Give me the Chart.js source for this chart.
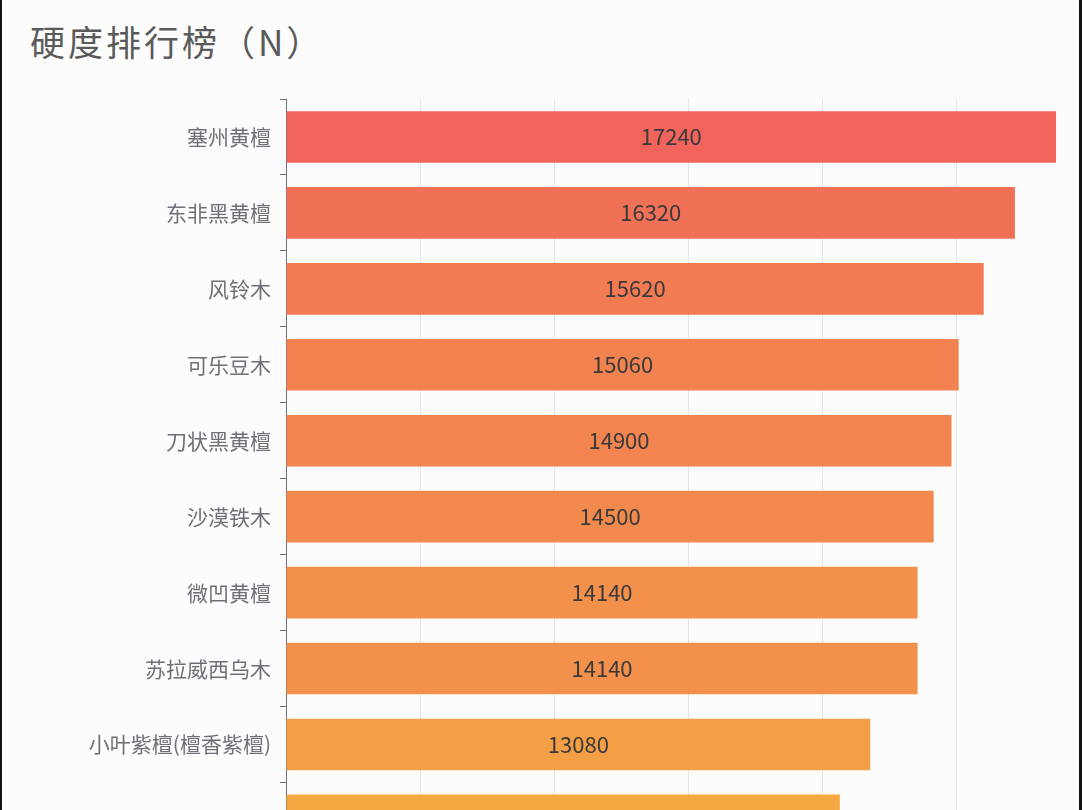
<!DOCTYPE html>
<html lang="zh">
<head>
  <meta charset="UTF-8">
  <title>硬度排行榜</title>
  <style>
    html, body { margin: 0; padding: 0; background: #fcfcfc; overflow: hidden; width: 1082px; height: 810px; }
    #title { position: absolute; left: 30px; top: 15px; font: 35px "Noto Sans CJK SC", sans-serif; color: #5a5a5a; letter-spacing: 3px; }
    #graphic { position: absolute; left: 0; top: 0; }
    .edge { position: absolute; top: 0; bottom: 0; background: #111; z-index: 5; }
  </style>
</head>
<body>
  <div id="title">硬度排行榜（N）</div>
  <canvas id="graphic" width="1100" height="880"></canvas>
  <div class="edge" style="left:0;width:2px"></div>
  <div class="edge" style="left:1079px;width:3px"></div>

  <script src="https://cdn.jsdelivr.net/npm/chart.js"></script>
  <script>
    // datos
    const maderas = ["塞州黄檀", "东非黑黄檀", "风铃木", "可乐豆木", "刀状黑黄檀", "沙漠铁木", "微凹黄檀", "苏拉威西乌木", "小叶紫檀(檀香紫檀)", "印度紫檀"];
    const dureza = [17240, 16320, 15620, 15060, 14900, 14500, 14140, 14140, 13080, 12400];
    const ticksX = [0, 3000, 6000, 9000, 12000, 15000, 18000];

    // color segun valor: rojo (max) -> naranja (min)
    const cAlto = [240, 100, 92], cBajo = [245, 168, 66];
    const vMax = Math.max(...dureza), vMin = Math.min(...dureza);
    const colores = dureza.map(v => {
      const t = (vMax - v) / (vMax - vMin);
      const c = cAlto.map((a, i) => Math.round(a + (cBajo[i] - a) * t));
      return `rgb(${c[0]}, ${c[1]}, ${c[2]})`;
    });

    const etiquetas = {
      id: 'etiquetas',
      afterDatasetsDraw(chart) {
        const ctx = chart.ctx;
        const meta = chart.getDatasetMeta(0);
        ctx.save();
        ctx.font = '22px "Noto Sans CJK SC", sans-serif';
        ctx.fillStyle = '#3a3a3a';
        ctx.textAlign = 'center';
        ctx.textBaseline = 'middle';
        meta.data.forEach((bar, i) => {
          const xc = (bar.x + bar.base) / 2;
          ctx.fillText(String(dureza[i]), xc, bar.y);
        });
        ctx.restore();
      }
    };

    const lienzo = document.getElementById("graphic");
    new Chart(lienzo, {
      type: 'bar',
      data: {
        labels: maderas,
        datasets: [{
          data: dureza,
          backgroundColor: colores,
          borderWidth: 0,
          barPercentage: 0.68,
          categoryPercentage: 1
        }]
      },
      options: {
        indexAxis: 'y',
        responsive: false,
        animation: false,
        layout: { padding: { top: 99, bottom: 19, right: 10, left: 0 } },
        plugins: {
          legend: { display: false },
          tooltip: { enabled: false }
        },
        scales: {
          x: {
            min: 0,
            max: 18000,
            afterBuildTicks: axis => { axis.ticks = ticksX.map(v => ({ value: v })); },
            ticks: { display: false },
            border: { display: false },
            grid: { color: '#e0e6f1', drawTicks: false }
          },
          y: {
            afterFit: axis => { axis.width = 286; },
            ticks: {
              color: '#6e7079',
              padding: 9,
              font: { size: 21, family: '"Noto Sans CJK SC", sans-serif' }
            },
            border: { display: true, color: '#6e7079', width: 1 },
            grid: { offset: true, drawOnChartArea: false, drawTicks: true, tickLength: 6, color: '#6e7079' }
          }
        }
      },
      plugins: [etiquetas]
    });
  </script>
</body>
</html>
